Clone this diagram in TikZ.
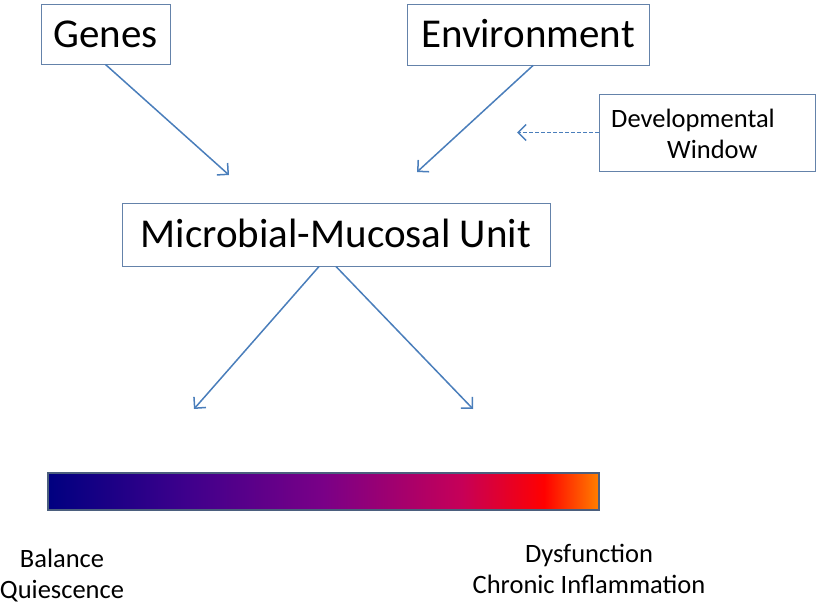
\documentclass[tikz,border=0pt]{standalone}
\usepackage{fontspec}
\setmainfont{Carlito}
\usetikzlibrary{arrows.meta}
\definecolor{arrowblue}{RGB}{74,126,187}
\definecolor{boxline}{RGB}{100,130,170}
\definecolor{barline}{RGB}{75,95,125}
\definecolor{c0}{RGB}{0,0,128}
\definecolor{c1}{RGB}{62,0,140}
\definecolor{c2}{RGB}{122,0,135}
\definecolor{c3}{RGB}{198,0,88}
\definecolor{c4}{RGB}{255,0,0}
\definecolor{c5}{RGB}{255,128,0}
\pgfdeclarehorizontalshading{barshade}{100bp}{color(0bp)=(c0); color(25bp)=(c0); color(37.5bp)=(c1); color(50bp)=(c2); color(62.5bp)=(c3); color(70bp)=(c4); color(75bp)=(c5); color(100bp)=(c5)}
\begin{document}
\begin{tikzpicture}[x=1pt,y=-1pt,
  bigbox/.style={draw=boxline, line width=1pt, rectangle, inner sep=0pt, text height=26pt, text depth=0pt, font=\fontsize{41}{49}\selectfont},
  smalltext/.style={font=\fontsize{26.5}{31}\selectfont, inner sep=0pt},
  arr/.style={draw=arrowblue, line width=1.5pt, -{Straight Barb[length=8pt,width=16pt,line width=1.5pt]}}]
\useasboundingbox (0,0) rectangle (819,603);
\node[bigbox, minimum width=129, minimum height=60] (genes) at (105.5,34) {Genes};
\node[bigbox, minimum width=242, minimum height=61] (env) at (528,34.5) {Environment};
\node[bigbox, minimum width=428, minimum height=63] (mmu) at (336,234.5) {Microbial-Mucosal Unit};
\node[draw=boxline, line width=1pt, minimum width=216, minimum height=77, inner sep=0pt] (dev) at (707,132.5) {};
\node[smalltext, align=left] (devtext) at (693,134) {Developmental\\\hspace*{56pt}Window};
\coordinate (g1) at (229,175);
\coordinate (e1) at (417,172);
\coordinate (d1) at (517,132.5);
\coordinate (m1) at (194,409);
\coordinate (m2) at (473,409);
\draw[arr] (genes.south) -- (g1);
\draw[arr] ([xshift=5pt]env.south) -- (e1);
\draw[arr, dashed, dash pattern=on 4pt off 2pt, line width=1pt] (dev.west) -- (d1);
\draw[arr] ([xshift=-17pt]mmu.south) -- (m1);
\draw[arr] (mmu.south) -- (m2);
\node[draw=barline, line width=2.5pt, shading=barshade, minimum width=551, minimum height=37, inner sep=0pt] (bar) at (323.5,491.5) {};
\node[smalltext, align=center] (bal) at (62,576) {Balance\\Quiescence};
\node[smalltext, align=center] (dys) at (589,569) {Dysfunction\\Chronic Inflammation};
\end{tikzpicture}
\end{document}
